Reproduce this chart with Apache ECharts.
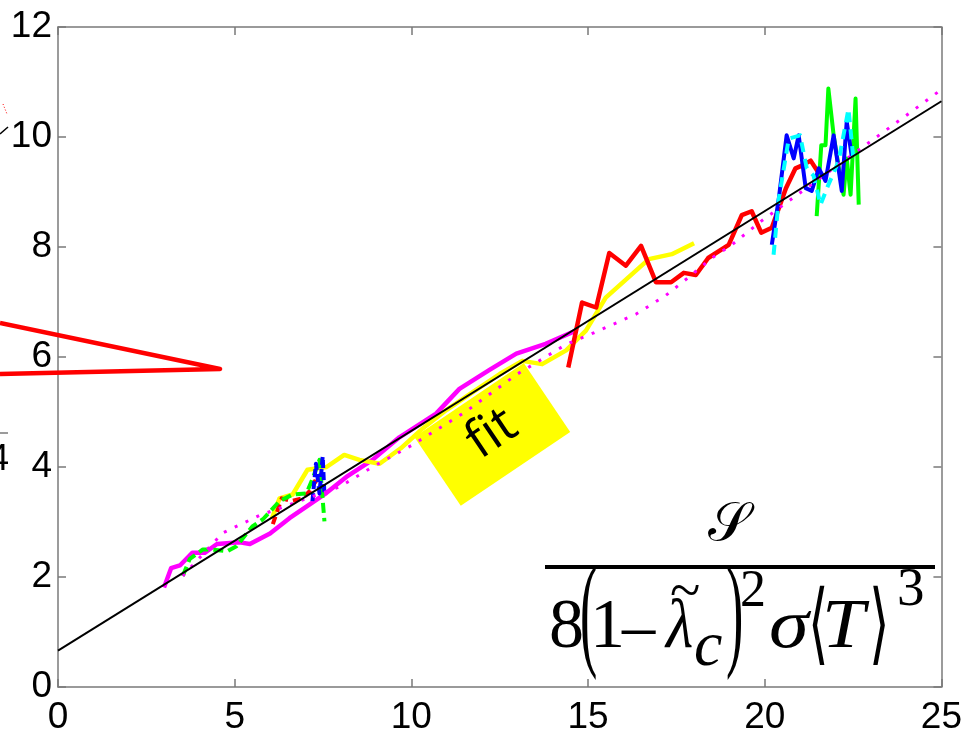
<!DOCTYPE html>
<html>
<head>
<meta charset="utf-8">
<script src="https://cdn.jsdelivr.net/npm/echarts@6/dist/echarts.min.js"></script>
<style>
  html, body { margin: 0; padding: 0; background: #fff; }
  #chart { width: 965px; height: 736px; }
</style>
</head>
<body>
<div id="chart"></div>
<script>
// Axis ticks
const xTicks = [0, 5, 10, 15, 20, 25];
const yTicks = [0, 2, 4, 6, 8, 10, 12];

// Linear fit across the full range
const fitLine = [[0, 0.66], [25, 10.65]];

// Model curve (dotted)
const modelCurve = [
  [3.53, 2.02], [4.66, 2.8], [5.7, 3.12], [6.84, 3.38], [7.97, 3.64], [8.9, 4.0],
  [10.0, 4.39], [11.5, 4.99], [13.0, 5.69], [14.38, 6.23], [15.2, 6.45], [16.36, 6.78],
  [17.2, 7.12], [17.85, 7.45], [18.5, 7.8], [19.07, 8.04], [19.9, 8.47], [21.5, 9.22],
  [23.1, 9.97], [24.15, 10.46], [24.97, 10.85]
];

// Measured runs
const magentaRun = [
  [3.0, 1.81], [3.2, 2.16], [3.45, 2.21], [3.8, 2.44], [4.15, 2.44], [4.5, 2.6],
  [5.15, 2.63], [5.43, 2.6], [6.0, 2.79], [6.55, 3.07], [7.03, 3.28], [7.6, 3.53],
  [8.16, 3.82], [8.9, 4.13], [9.66, 4.54], [10.7, 4.97], [11.36, 5.42], [12.2, 5.76],
  [12.97, 6.06], [13.8, 6.24], [14.66, 6.48]
];
const yellowRun = [
  [6.05, 3.06], [6.27, 3.43], [6.64, 3.5], [7.06, 3.95], [7.6, 4.0], [8.1, 4.22],
  [8.53, 4.13], [9.1, 4.06], [9.7, 4.34], [10.3, 4.69], [11.0, 5.04], [11.8, 5.39],
  [12.5, 5.69], [13.14, 5.93], [13.7, 5.87], [14.38, 6.12], [14.94, 6.48], [15.5, 7.08],
  [16.72, 7.78], [17.37, 7.87], [18.0, 8.07]
];
const redRun = [
  [14.44, 5.81], [14.83, 6.99], [15.23, 6.9], [15.6, 7.89], [16.07, 7.66], [16.5, 8.02],
  [16.92, 7.36], [17.35, 7.36], [17.71, 7.53], [18.05, 7.49], [18.4, 7.8], [18.98, 8.04],
  [19.35, 8.58], [19.63, 8.65], [19.9, 8.26], [20.2, 8.35], [20.4, 8.71], [20.6, 9.07],
  [20.87, 9.43], [21.05, 9.48], [21.3, 9.57], [21.5, 9.37]
];
const redShort = [
  [6.08, 2.96], [6.33, 3.43], [6.6, 3.38], [6.92, 3.43], [7.12, 3.56], [7.26, 3.74], [7.45, 3.65]
];
const greenShort = [
  [3.53, 2.02], [3.73, 2.33], [4.1, 2.5], [4.35, 2.5], [4.8, 2.47], [5.05, 2.56],
  [5.5, 2.92], [5.8, 3.05], [6.27, 3.38], [6.64, 3.5], [7.03, 3.52], [7.2, 3.78],
  [7.4, 4.13], [7.54, 3.01]
];
const blueShort = [
  [7.2, 3.38], [7.3, 4.06], [7.4, 3.52], [7.49, 4.19], [7.54, 3.5]
];
const blueLong = [
  [20.2, 8.04], [20.4, 8.89], [20.62, 10.03], [20.82, 9.61], [20.96, 10.03], [21.16, 9.07],
  [21.33, 9.02], [21.53, 9.43], [21.72, 9.2], [21.95, 10.03], [22.18, 9.02], [22.32, 10.28],
  [22.46, 9.66]
];
const cyanLong = [
  [20.25, 7.86], [20.4, 8.89], [20.68, 9.97], [21.0, 10.03], [21.19, 9.43], [21.38, 9.3],
  [21.58, 8.77], [21.8, 9.13], [22.09, 9.56], [22.37, 10.51], [22.5, 9.66]
];
const greenLong = [
  [21.47, 8.56], [21.6, 9.85], [21.72, 9.85], [21.8, 10.88], [21.95, 10.03], [22.1, 9.43],
  [22.23, 8.95], [22.32, 9.61], [22.43, 8.95], [22.57, 10.7], [22.66, 8.77]
];

const chart = echarts.init(document.getElementById('chart'), null, { renderer: 'canvas' });

const axisGray = '#7a7a7a';
const sans = "'Liberation Sans', Arial, sans-serif";

function xAxisDef(pos, showLabel) {
  return {
    type: 'value', position: pos, min: xTicks[0], max: xTicks[xTicks.length - 1],
    interval: xTicks[1] - xTicks[0],
    axisLine: { show: true, onZero: false, lineStyle: { color: axisGray, width: 1.5 } },
    axisTick: { show: true, inside: true, length: 8, lineStyle: { color: axisGray, width: 1.5 } },
    axisLabel: showLabel ? { margin: 12, color: '#000', fontSize: 37, fontFamily: sans } : { show: false },
    splitLine: { show: false }
  };
}
function yAxisDef(pos, showLabel) {
  return {
    type: 'value', position: pos, min: yTicks[0], max: yTicks[yTicks.length - 1],
    interval: yTicks[1] - yTicks[0],
    axisLine: { show: true, onZero: false, lineStyle: { color: axisGray, width: 1.5 } },
    axisTick: { show: true, inside: true, length: 8, lineStyle: { color: axisGray, width: 1.5 } },
    axisLabel: showLabel ? { margin: 6, color: '#000', fontSize: 37, fontFamily: sans } : { show: false },
    splitLine: { show: false }
  };
}

function run(data, color, width, type, z) {
  return {
    type: 'line', data: data, xAxisIndex: 0, yAxisIndex: 0,
    showSymbol: false, symbol: 'none', smooth: false, z: z,
    lineStyle: { color: color, width: width, type: type, cap: 'butt', join: 'round' },
    emphasis: { disabled: true }
  };
}

// One glyph group of the normalisation formula
const serif = "'Liberation Serif', 'DejaVu Serif', serif";
const mathSym = "'DejaVu Serif', 'DejaVu Sans', serif";
function piece(text, x, y, size, opts) {
  opts = opts || {};
  return {
    type: 'text', x: x, y: y, scaleX: opts.sx || 1, scaleY: opts.sy || 1, z: 100,
    style: {
      text: text, fill: '#000',
      font: (opts.italic ? 'italic ' : '') + size + 'px ' + (opts.family || serif),
      textAlign: 'left', textVerticalAlign: 'middle'
    }
  };
}

const option = {
  animation: false,
  backgroundColor: '#fff',
  grid: { left: 58, right: 21, top: 27, bottom: 44, containLabel: false },
  xAxis: [xAxisDef('bottom', true), xAxisDef('top', false)],
  yAxis: [yAxisDef('left', true), yAxisDef('right', false)],
  series: [
    run(magentaRun, '#ff00ff', 4.5, 'solid', 2),
    run(yellowRun, '#ffff00', 4.5, 'solid', 3),
    run(redRun, '#ff0000', 4.5, 'solid', 4),
    run(redShort, '#ff0000', 4, [8, 5], 4),
    run(greenShort, '#00ff00', 4, [10, 5], 5),
    run(blueShort, '#0000ff', 4, [8, 4], 6),
    run(greenLong, '#00ff00', 4, 'solid', 5),
    run(blueLong, '#0000ff', 4, 'solid', 6),
    run(cyanLong, '#00ffff', 4, [10, 7], 7),
    run(modelCurve, '#ff00ff', 3, [3, 9], 8),
    run(fitLine, '#000000', 2, 'solid', 9)
  ],
  graphic: [
    // pointer wedge entering from the left
    { type: 'polyline', z: 50, shape: { points: [[0, 323], [220, 369], [0, 374]] },
      style: { stroke: '#ff0000', lineWidth: 4.5, fill: null, lineJoin: 'round' } },
    // fragments of the neighbouring panel
    { type: 'line', z: 50, shape: { x1: 0, y1: 433, x2: 8, y2: 433 }, style: { stroke: axisGray, lineWidth: 1.5 } },
    { type: 'text', z: 50, x: 9, y: 460, style: { text: '4', fill: '#000', font: '37px ' + sans, textAlign: 'right', textVerticalAlign: 'middle' } },
    { type: 'line', z: 50, shape: { x1: 0, y1: 134, x2: 8, y2: 127 }, style: { stroke: '#000', lineWidth: 1.5 } },
    { type: 'line', z: 50, shape: { x1: 3, y1: 104, x2: 7, y2: 114 }, style: { stroke: '#ff0000', lineWidth: 1, lineDash: [1, 2] } },
    // label box on the fit line
    {
      type: 'group', x: 492, y: 434, rotation: 34 * Math.PI / 180, z: 60,
      children: [
        { type: 'rect', shape: { x: -66, y: -41, width: 132, height: 83 }, style: { fill: '#ffff00' } },
        { type: 'text', x: 0, y: 0, style: { text: 'fit', fill: '#000', font: "52px 'Open Sans', 'Liberation Sans', sans-serif", textAlign: 'center', textVerticalAlign: 'middle' } }
      ]
    },
    // normalisation formula
    piece('\u{1D4AE}', 708, 526, 54, { family: mathSym }),
    { type: 'line', z: 100, shape: { x1: 545, y1: 567, x2: 935, y2: 567 }, style: { stroke: '#000', lineWidth: 4 } },
    piece('8', 549, 629, 70),
    piece('(', 580, 619, 80, { sx: 0.65, sy: 1.6 }),
    piece('1', 590, 629, 70),
    piece('\u2013', 622, 631, 70, { sx: 0.95 }),
    piece('\u03BB', 666, 629, 70, { italic: true, sx: 0.9 }),
    piece('~', 670, 594, 56),
    piece('c', 694, 648, 64, { italic: true }),
    piece(')', 726, 619, 80, { sx: 0.65, sy: 1.6 }),
    piece('2', 740, 592, 52),
    piece('\u03C3', 769, 629, 70, { italic: true, sx: 1.15 }),
    piece('\u27E8', 808, 630, 66, { family: mathSym, sx: 0.8, sy: 1.35 }),
    piece('T', 822, 629, 70, { italic: true, sx: 1.1 }),
    piece('\u27E9', 869, 630, 66, { family: mathSym, sx: 0.8, sy: 1.35 }),
    piece('3', 897, 591, 55)
  ]
};

chart.setOption(option);
</script>
</body>
</html>
